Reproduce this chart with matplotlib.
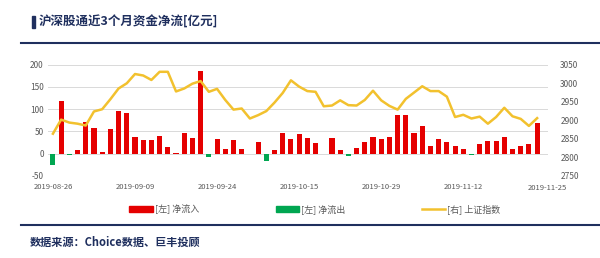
import numpy as np
import matplotlib.pyplot as plt
from matplotlib.patches import Rectangle
from matplotlib.lines import Line2D
from matplotlib.patches import Patch
import matplotlib.transforms as mtransforms

plt.rcParams['font.family'] = ['Noto Sans CJK SC', 'DejaVu Sans']
plt.rcParams['axes.unicode_minus'] = False

# 沪深股通每日资金净流 (亿元), 2019-08-26 ~ 2019-11-25
net_flow = [-25, 118, -2, 9, 72, 58, 4, 56, 97, 92,
            37, 31, 31, 39, 16, 1, 47, 35, 185, -7,
            33, 11, 31, 10, 0, 26, -17, 8, 47, 33,
            45, 35, 24, 0, 35, 9, -6, 13, 26, 37,
            32, 38, 86, 87, 47, 62, 18, 33, 26, 17,
            11, -3, 22, 29, 28, 37, 11, 17, 22, 70]

# 上证指数收盘
sh_index = [2864, 2902, 2894, 2891, 2886, 2924, 2930, 2957, 2986, 3000,
            3025, 3021, 3009, 3031, 3031, 2978, 2986, 2999, 3006, 2977,
            2985, 2955, 2929, 2932, 2905, 2914, 2925, 2948, 2974, 3008,
            2991, 2979, 2977, 2938, 2940, 2954, 2941, 2940, 2955, 2980,
            2954, 2939, 2929, 2958, 2975, 2992, 2979, 2979, 2964, 2909,
            2915, 2905, 2910, 2891, 2909, 2934, 2911, 2904, 2885, 2906]

tick_pos = [0, 10, 20, 30, 40, 50, 59]
tick_labels = ['2019-08-26', '2019-09-09', '2019-09-24', '2019-10-15',
               '2019-10-29', '2019-11-12', '2019-11-25']

navy = '#1f2f5e'
grey = '#595959'
red = '#e50000'
green = '#00a651'
gold = '#f2c12e'

fig = plt.figure(figsize=(6, 2.58), dpi=100)
ax = fig.add_axes([0.08, 0.318, 0.833, 0.431])
ax2 = ax.twinx()

x = np.arange(len(net_flow))
flow = np.array(net_flow)
inflow = np.where(flow > 0, flow, 0)
outflow = np.where(flow < 0, flow, 0)

ax.bar(x, inflow, width=0.62, color=red, zorder=2)
ax.bar(x, outflow, width=0.62, color=green, zorder=2)
ax2.plot(x, sh_index, color=gold, lw=1.8, zorder=3)

ax.set_ylim(-50, 200)
ax.set_yticks([-50, 0, 50, 100, 150, 200])
ax2.set_ylim(2750, 3050)
ax2.set_yticks(range(2750, 3051, 50))
ax.set_xlim(-0.6, 60.3)
ax.grid(axis='y', color='#d9d9d9', lw=0.7, zorder=0)
ax.set_axisbelow(True)

ax.set_xticks(tick_pos)
ax.set_xticklabels(tick_labels)
for a in (ax, ax2):
    for s in a.spines.values():
        s.set_visible(False)
    a.tick_params(length=0, labelsize=6, colors=grey, pad=3)
ax2.tick_params(pad=9)
ax.tick_params(axis='x', labelsize=5.5, pad=5)

# 最后一个日期标签稍微右移
lab = ax.get_xticklabels()[-1]
lab.set_transform(lab.get_transform() + mtransforms.ScaledTranslation(0.1, -0.01, fig.dpi_scale_trans))

# 图例
handles = [Patch(color=red), Patch(color=green), Line2D([], [], color=gold, lw=1.8)]
fig.legend(handles, ['[左] 净流入', '[左] 净流出', '[右] 上证指数'],
           loc='center', bbox_to_anchor=(0.525, 0.19), ncol=3, frameon=False,
           fontsize=6.5, labelcolor=grey, handlelength=2.6, handleheight=0.6,
           columnspacing=8.5, handletextpad=0.2)

# 标题与分隔线
fig.patches.append(Rectangle((0.053, 0.893), 0.005, 0.045, transform=fig.transFigure,
                             color=navy))
fig.text(0.065, 0.913, '沪深股通近3个月资金净流[亿元]', fontsize=9, fontweight='bold',
         color=navy, va='center')
fig.add_artist(Line2D([0.035, 1.0], [0.835, 0.835], color=navy, lw=1.5))
fig.add_artist(Line2D([0.035, 1.0], [0.126, 0.126], color=navy, lw=1.5))
fig.text(0.05, 0.06, '数据来源：Choice数据、巨丰投顾', fontsize=8, fontweight='bold',
         color=navy, va='center')

fig.savefig('out.png', dpi=100)
